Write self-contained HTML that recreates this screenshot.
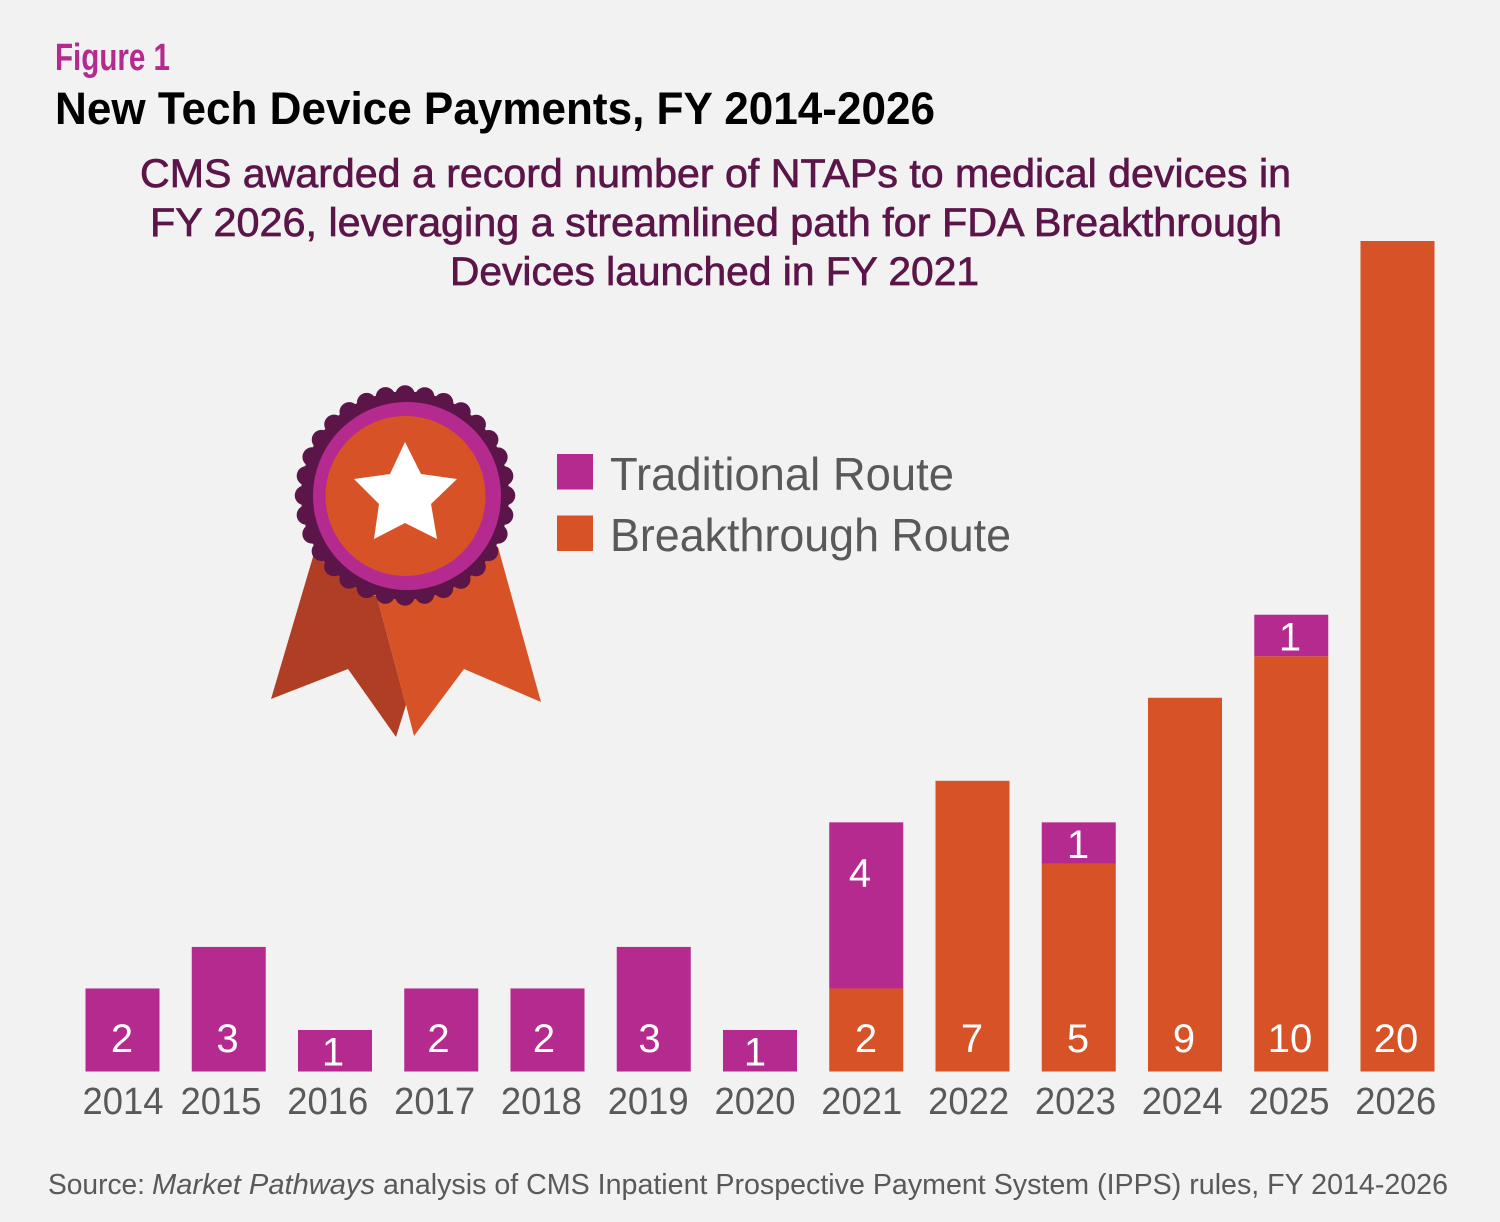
<!DOCTYPE html>
<html lang="en">
<head>
<meta charset="utf-8">
<title>New Tech Device Payments, FY 2014-2026</title>
<style>
html,body{margin:0;padding:0;background:#f2f2f2;}
svg{display:block;font-family:"Liberation Sans",sans-serif;}
</style>
</head>
<body>
<svg id="chart" width="1500" height="1222" viewBox="0 0 1500 1222" xmlns="http://www.w3.org/2000/svg">
  <rect x="0" y="0" width="1500" height="1222" fill="#f2f2f2"/>

  <text x="55" y="70" font-size="38" font-weight="700" fill="#b42a8f" textLength="115" lengthAdjust="spacingAndGlyphs">Figure 1</text>
  <text x="55" y="124" font-size="45" font-weight="700" fill="#000" textLength="880" lengthAdjust="spacingAndGlyphs">New Tech Device Payments, FY 2014-2026</text>

  <g font-size="40" fill="#5c1549" stroke="#5c1549" stroke-width="0.7">
    <text x="140" y="187" textLength="1151" lengthAdjust="spacingAndGlyphs">CMS awarded a record number of NTAPs to medical devices in</text>
    <text x="150" y="236" textLength="1132" lengthAdjust="spacingAndGlyphs">FY 2026, leveraging a streamlined path for FDA Breakthrough</text>
    <text x="450" y="285" textLength="529" lengthAdjust="spacingAndGlyphs">Devices launched in FY 2021</text>
  </g>

  <g>
    <polygon points="315,550 271,699 348,669 396,737 406,705 377,597" fill="#b03e25"/>
    <polygon points="377,597 406,705 414,736 464,669 541,702 498,547 400,540" fill="#d75327"/>
    <circle cx="405" cy="495.5" r="104" fill="#5c1549"/>
    <circle cx="405" cy="495.5" r="100.5" fill="none" stroke="#5c1549" stroke-width="19.5" stroke-linecap="round" stroke-dasharray="0 19.73"/>
    <circle cx="407" cy="496" r="94" fill="#b42a8f"/>
    <circle cx="405.5" cy="496" r="80" fill="#d75327"/>
    <polygon points="405,442 421,474 457,479 431,504 437,539 405,523 374,539 379,504 354,479 390,474" fill="#fff"/>
  </g>

  <g font-size="46" fill="#595959">
    <rect x="557" y="454" width="36" height="35.5" fill="#b42a8f"/>
    <text x="610" y="490" textLength="344" lengthAdjust="spacingAndGlyphs">Traditional Route</text>
    <rect x="557" y="515.5" width="36" height="35.5" fill="#d75327"/>
    <text x="610" y="551" textLength="401" lengthAdjust="spacingAndGlyphs">Breakthrough Route</text>
  </g>

  <g id="plot"></g>

  <g font-size="29" fill="#595959">
    <text x="48" y="1194" textLength="97" lengthAdjust="spacingAndGlyphs">Source:</text>
    <text x="152" y="1194" font-style="italic" textLength="223" lengthAdjust="spacingAndGlyphs">Market Pathways</text>
    <text x="383" y="1194" textLength="1065" lengthAdjust="spacingAndGlyphs">analysis of CMS Inpatient Prospective Payment System (IPPS) rules, FY 2014-2026</text>
  </g>
</svg>

<script>
const years = ["2014","2015","2016","2017","2018","2019","2020","2021","2022","2023","2024","2025","2026"];
const breakthroughRoute = [0,0,0,0,0,0,0,2,7,5,9,10,20];
const traditionalRoute = [2,3,1,2,2,3,1,4,0,1,0,1,0];

const NS = "http://www.w3.org/2000/svg";
const plot = document.getElementById("plot");
const BASELINE = 1071.5, UNIT = 41.525;
const BAR_LEFT = 85.5, BAR_STEP = 106.25, BAR_WIDTH = 74;

function yScale(v) { return BASELINE - v * UNIT; }
function xScale(i) { return BAR_LEFT + i * BAR_STEP; }
function tickCenter(i) { return i === 0 ? 123 : 221 + (i - 1) * 106.8; }
function labelCenter(i) { return i <= 6 ? 122 + i * 105.5 : 866 + (i - 7) * 106; }

function labelBaseline(value, base) {
  const top = yScale(base + value), bottom = yScale(base);
  if (value === 1) return (top + bottom) / 2 + 15;
  if (base > 0) return top + 64;
  return bottom - 19.5;
}

function drawSegment(i, base, value, color, seriesName) {
  if (value <= 0) return;
  const rect = document.createElementNS(NS, "rect");
  rect.setAttribute("x", xScale(i));
  rect.setAttribute("y", yScale(base + value));
  rect.setAttribute("width", BAR_WIDTH);
  rect.setAttribute("height", yScale(base) - yScale(base + value));
  rect.setAttribute("fill", color);
  
  
  plot.appendChild(rect);

  const label = document.createElementNS(NS, "text");
  const shift = (base > 0 && value > 1) ? -6 : 0;
  label.setAttribute("x", labelCenter(i) + shift);
  label.setAttribute("y", labelBaseline(value, base));
  label.setAttribute("text-anchor", "middle");
  label.setAttribute("font-size", "40");
  label.setAttribute("fill", "#ffffff");
  
  
  label.textContent = String(value);
  plot.appendChild(label);
}

years.forEach(function (year, i) {
  drawSegment(i, 0, breakthroughRoute[i], "#d75327", "breakthrough");
  drawSegment(i, breakthroughRoute[i], traditionalRoute[i], "#b42a8f", "traditional");

  const tick = document.createElementNS(NS, "text");
  tick.setAttribute("x", tickCenter(i));
  tick.setAttribute("y", 1114);
  tick.setAttribute("text-anchor", "middle");
  tick.setAttribute("font-size", "38");
  tick.setAttribute("fill", "#595959");
  tick.setAttribute("textLength", "81");
  tick.setAttribute("lengthAdjust", "spacingAndGlyphs");
  
  
  tick.textContent = year;
  plot.appendChild(tick);
});
</script>
</body>
</html>
